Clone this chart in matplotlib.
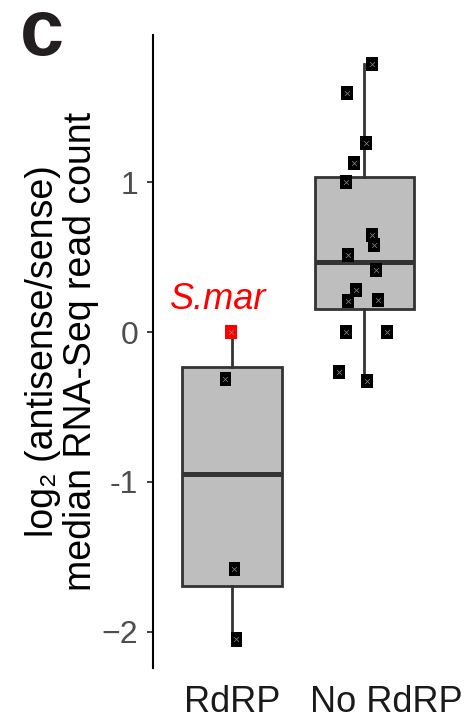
import numpy as np
import matplotlib
matplotlib.use("Agg")
import matplotlib.pyplot as plt
from matplotlib.path import Path
from matplotlib.transforms import ScaledTranslation

plt.rcParams['font.family'] = ['Liberation Sans', 'DejaVu Sans']

categories = ["RdRP", "No RdRP"]
rdrp_vals = [0.0, -0.313, -1.58, -2.05]
rdrp_jitter = [-0.008, -0.053, 0.015, 0.030]
rdrp_colors = ["#ff0000", "black", "black", "black"]
nordrp_vals = [1.79, 1.593, 1.26, 1.127, 1.002, 0.647, 0.582, 0.516,
               0.413, 0.282, 0.209, 0.216, 0.0, 0.0, -0.269, -0.324]
nordrp_jitter = [0.056, -0.133, 0.013, -0.078, -0.141, 0.056, 0.071, -0.121,
                 0.091, -0.065, -0.121, 0.101, -0.138, 0.169, -0.194, 0.018]
ytick_vals = [1, 0, -1, -2]
ytick_labels = ["1", "0", "-1", "\u22122"]
highlight_label = "S.mar"

W, H = 468, 719
fig = plt.figure(figsize=(W / 100, H / 100), dpi=100)
ax = fig.add_axes([153 / W, 1 - 668 / H, (443.7 - 153) / W, (668 - 35) / H])

box_edge = "#333333"
box_fill = "#bebebe"
data = [rdrp_vals, nordrp_vals]
ax.boxplot(data, positions=[1, 2], widths=0.755, patch_artist=True,
           whis=1.5, showfliers=False, showcaps=False,
           boxprops=dict(facecolor=box_fill, edgecolor=box_edge, linewidth=2.0),
           whiskerprops=dict(color=box_edge, linewidth=2.0),
           medianprops=dict(color=box_edge, linewidth=3.6, solid_capstyle='butt'),
           zorder=1)

rect = Path([(-11 / 14, -1), (11 / 14, -1), (11 / 14, 1), (-11 / 14, 1), (-11 / 14, -1)],
            [Path.MOVETO, Path.LINETO, Path.LINETO, Path.LINETO, Path.CLOSEPOLY])

xs1 = [1 + j for j in rdrp_jitter]
xs2 = [2 + j for j in nordrp_jitter]
ax.scatter(xs1, rdrp_vals, marker=rect, s=10.5 ** 2, c=rdrp_colors, linewidths=0, zorder=3)
ax.scatter(xs2, nordrp_vals, marker=rect, s=10.5 ** 2, c="black", linewidths=0, zorder=3)
ax.scatter(xs1 + xs2, rdrp_vals + nordrp_vals, marker='x', s=12, c="#8a8a8a",
           linewidths=0.5, zorder=4)

allv = rdrp_vals + nordrp_vals
lo, hi = min(allv), max(allv)
pad = 0.05 * (hi - lo)
ax.set_ylim(lo - pad, hi + pad)
ax.set_xlim(0.4, 2.6)

ax.text(0.894, 0.153, highlight_label, color="#ff0000", fontsize=26,
        fontstyle='italic', ha='center', va='baseline')

for s in ["top", "right", "bottom"]:
    ax.spines[s].set_visible(False)
ax.spines["left"].set_linewidth(1.5)
ax.spines["left"].set_color("black")

ax.set_yticks(ytick_vals)
ax.set_yticklabels(ytick_labels)
ax.tick_params(axis='y', length=4.5, width=1.3, color="#333333", pad=6,
               labelsize=23, labelcolor="#4d4d4d")
ax.set_xticks([1, 2])
ax.set_xticklabels(categories)
ax.tick_params(axis='x', length=0, pad=12, labelsize=26, labelcolor="#1a1a1a")
lab2 = ax.get_xticklabels()[1]
lab2.set_transform(lab2.get_transform() + ScaledTranslation(22 / 100, 0, fig.dpi_scale_trans))

fig.text(62 / W, 1 - 351 / H, "log\u2082 (antisense/sense)\nmedian RNA-Seq read count",
         rotation=90, ha='center', va='center', fontsize=27, color="black",
         linespacing=1.05, multialignment='center')

fig.text(20 / W, 1 - 55 / H, "c", fontsize=57, fontweight='bold', color="#231f20",
         ha='left', va='baseline')

fig.savefig("out.png", dpi=100)
